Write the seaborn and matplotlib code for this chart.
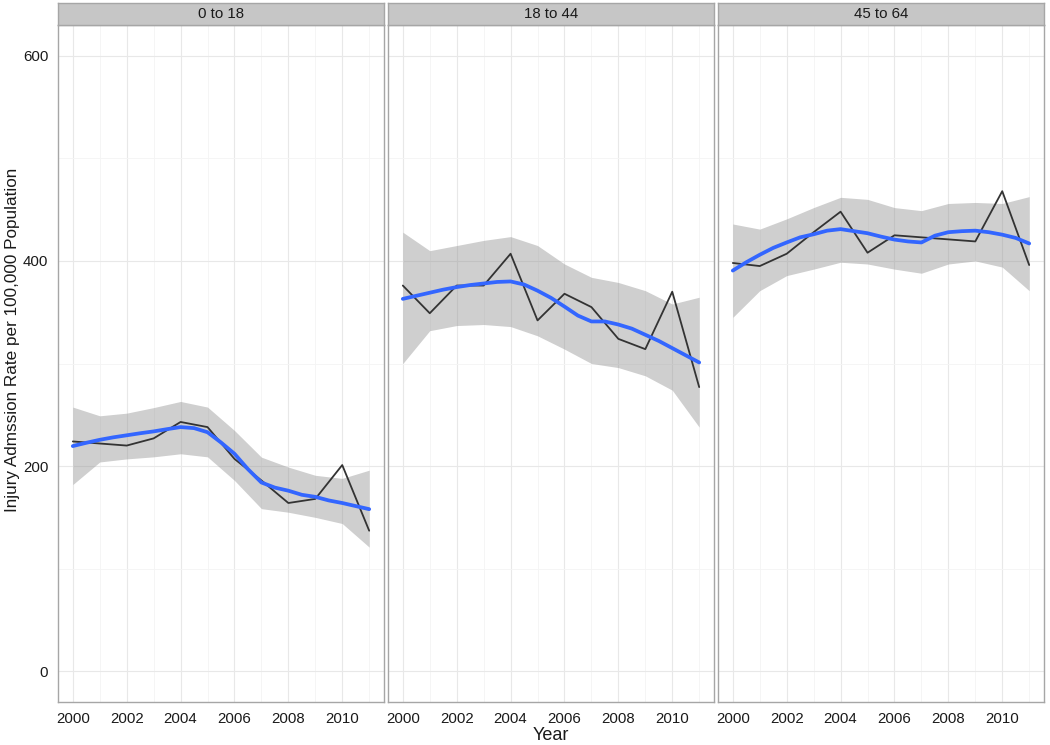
import numpy as np
import pandas as pd
import matplotlib
matplotlib.use("Agg")
import matplotlib.pyplot as plt
import seaborn as sns

sns.set_theme(style="white")
plt.rcParams['font.family'] = ['Liberation Sans', 'DejaVu Sans']

panels = ["0 to 18", "18 to 44", "45 to 64"]
years = list(range(2000, 2012))

# observed rates
rate_0_18 = [224, 222, 220, 227, 243, 238, 207, 186, 164, 168, 201, 137]
rate_18_44 = [376, 349, 376, 376, 407, 342, 368, 355, 324, 314, 370, 277]
rate_45_64 = [398, 395, 407, 428, 448, 408, 425, 423, 421, 419, 468, 396]

# smoothed fit (read at half-year steps)
smooth_years = [2000 + 0.5 * i for i in range(23)]
fit_0_18 = [219.5, 222.7, 225.6, 228, 230, 232, 233.8, 236, 238, 237, 233, 223,
            212, 197, 184, 179, 176, 172, 170, 166.5, 164, 161, 158]
fit_18_44 = [363, 366, 369, 372, 374.5, 376.5, 378, 379.5, 380, 377, 371, 364,
             355.5, 346.7, 341, 341, 338, 334, 328, 322, 315, 308, 301]
fit_45_64 = [390.6, 398.7, 406, 412.7, 418, 423, 426, 429.5, 431, 429, 427, 423.7,
             420.8, 419, 418, 424.6, 428, 429, 429.5, 428, 425.6, 422.4, 417]

# confidence band (yearly)
lower_0_18 = [182, 204, 207, 209, 212, 209, 186, 158.5, 155, 150, 144, 121]
upper_0_18 = [257.5, 249, 251.6, 257, 263, 257.5, 234.7, 208.7, 199, 191, 188, 196]
lower_18_44 = [300, 332, 337, 338, 336, 327, 314, 300, 296, 288, 274, 238]
upper_18_44 = [428, 410, 415, 420, 423.7, 415, 397, 384, 379, 371, 358, 364.6]
lower_45_64 = [345, 371, 385.7, 392, 398.7, 397, 392, 388, 397, 400, 394, 371]
upper_45_64 = [436, 431, 441, 452, 462, 460, 452, 449, 456, 457, 456, 462.7]

rates = [rate_0_18, rate_18_44, rate_45_64]
fits = [fit_0_18, fit_18_44, fit_45_64]
lowers = [lower_0_18, lower_18_44, lower_45_64]
uppers = [upper_0_18, upper_18_44, upper_45_64]

xticks = [2000, 2002, 2004, 2006, 2008, 2010]
yticks = [0, 200, 400, 600]

W, H = 1050, 745
fig = plt.figure(figsize=(W / 100, H / 100), dpi=100)
fig.patch.set_facecolor("white")

lefts = [58, 388, 718]
width = 326
top, bottom = 25, 702
strip_top = 3

for i, name in enumerate(panels):
    ax = fig.add_axes([lefts[i] / W, 1 - bottom / H, width / W, (bottom - top) / H])
    df = pd.DataFrame({"Year": years, "Rate": rates[i]})
    dfs = pd.DataFrame({"Year": smooth_years, "Fit": fits[i]})
    ax.fill_between(years, lowers[i], uppers[i], color="#999999", alpha=0.47,
                    linewidth=0, zorder=2)
    sns.lineplot(data=df, x="Year", y="Rate", ax=ax, color="#333333", linewidth=1.3,
                 zorder=3)
    sns.lineplot(data=dfs, x="Year", y="Fit", ax=ax, color="#3366FF", linewidth=2.7,
                 zorder=4)
    ax.set_xlim(1999.45, 2011.55)
    ax.set_ylim(-30, 630)
    ax.set_xticks(xticks)
    ax.set_xticks([2001, 2003, 2005, 2007, 2009, 2011], minor=True)
    ax.set_yticks(yticks)
    ax.set_yticks([100, 300, 500], minor=True)
    ax.grid(True, which="major", color="#E8E8E8", linewidth=0.8, zorder=0)
    ax.grid(True, which="minor", color="#F4F4F4", linewidth=0.6, zorder=0)
    ax.set_axisbelow(True)
    for s in ax.spines.values():
        s.set_color("#A6A6A6")
        s.set_linewidth(1.0)
    ax.tick_params(axis="both", which="major", direction="out", length=4, width=1,
                   color="#333333", labelsize=10.8, labelcolor="#1a1a1a", pad=3)
    ax.tick_params(axis="both", which="minor", length=0)
    ax.set_xticklabels([str(t) for t in xticks])
    ax.set_xlabel("")
    ax.set_ylabel("")
    if i == 0:
        ax.set_yticklabels([str(t) for t in yticks])
    else:
        ax.tick_params(axis="y", which="both", left=False, labelleft=False)

    sax = fig.add_axes([lefts[i] / W, 1 - top / H, width / W, (top - strip_top) / H])
    sax.set_facecolor("#C6C6C6")
    sax.set_xticks([])
    sax.set_yticks([])
    for s in sax.spines.values():
        s.set_color("#A6A6A6")
        s.set_linewidth(1.0)
    sax.text(0.5, 0.5, name, ha="center", va="center", fontsize=10.8,
             color="#1a1a1a", transform=sax.transAxes)

fig.text(13 / W, 1 - 340 / H, "Injury Admssion Rate per 100,000 Population",
         rotation=90, ha="center", va="center", fontsize=12.3, color="#1a1a1a")
fig.text(551 / W, 1 - 736 / H, "Year", ha="center", va="center", fontsize=13,
         color="#1a1a1a")

fig.savefig("out.png", dpi=100, facecolor="white")
